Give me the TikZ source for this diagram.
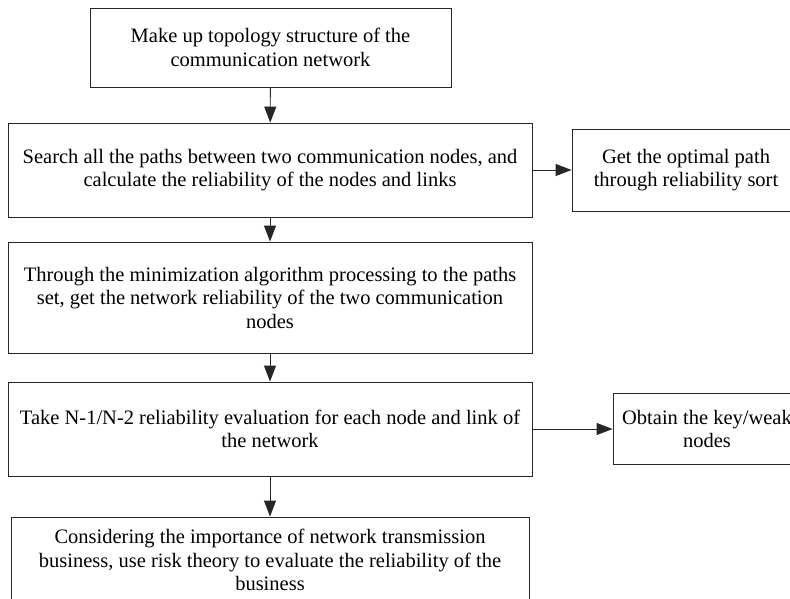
\documentclass[tikz,border=0pt]{standalone}
\usepackage{fontspec}
\setmainfont{Liberation Serif}
\usetikzlibrary{arrows.meta}
\begin{document}
\begin{tikzpicture}[x=1pt,y=-1pt,
  box/.style={draw=black!85, line width=0.9pt, align=center, inner sep=0pt,
    font=\fontsize{20.5}{23.5}\selectfont},
  flow/.style={draw=black!85, line width=0.9pt, -{Triangle[length=16pt,width=12pt]}}]
\fill[white] (0,0) rectangle (790,598);
\clip (0,0) rectangle (790,598);
\node[box, minimum width=361pt, minimum height=79pt] (b1) at (270.5,47.5)
  {Make up topology structure of the\\communication network};
\node[box, minimum width=524pt, minimum height=94pt] (b2) at (270,170)
  {Search all the paths between two communication nodes, and\\calculate the reliability of the nodes and links};
\node[box, minimum width=228pt, minimum height=82pt] (ra) at (686,170)
  {Get the optimal path\\through reliability sort};
\node[box, minimum width=524pt, minimum height=111pt] (b3) at (270,297.5)
  {Through the minimization algorithm processing to the paths\\set, get the network reliability of the two communication\\nodes};
\node[box, minimum width=524pt, minimum height=94pt] (b4) at (270,429)
  {Take N-1/N-2 reliability evaluation for each node and link of\\the network};
\node[box, minimum width=188pt, minimum height=71pt] (rb) at (707,429)
  {Obtain the key/weak\\nodes};
\node[box, minimum width=518pt, minimum height=86pt] (b5) at (270,560)
  {Considering the importance of network transmission\\business, use risk theory to evaluate the reliability of the\\business};
\draw[flow] (b1) -- (b2);
\draw[flow] (b2) -- (ra);
\draw[flow] (b2) -- (b3);
\draw[flow] (b3) -- (b4);
\draw[flow] (b4) -- (rb);
\draw[flow] (b4) -- (b5);
\end{tikzpicture}
\end{document}
